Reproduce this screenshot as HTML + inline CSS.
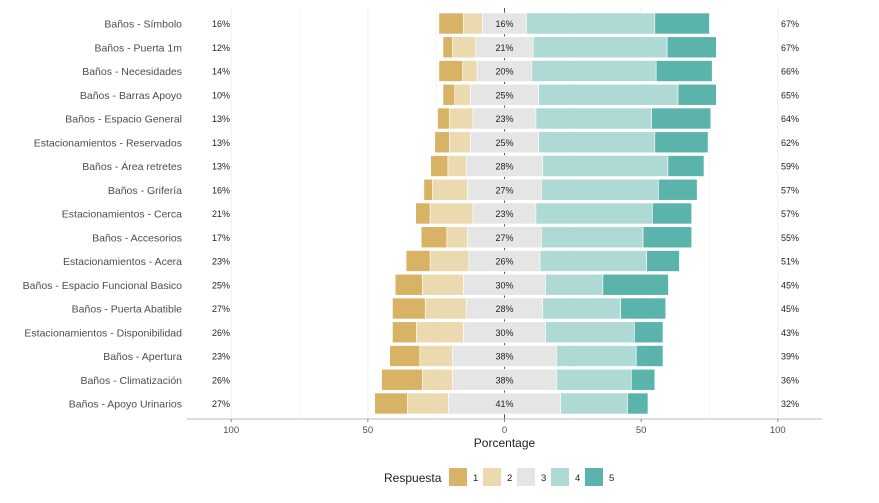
<!DOCTYPE html>
<html><head><meta charset="utf-8"><style>
body{margin:0;background:#fff;font-family:"Liberation Sans",Arial,sans-serif}
svg text{font-family:"Liberation Sans",Arial,sans-serif}
</style></head><body>
<svg id="chart" width="879" height="498" xmlns="http://www.w3.org/2000/svg"></svg>
<script>
const categories=["Baños - Símbolo","Baños - Puerta 1m","Baños - Necesidades","Baños - Barras Apoyo","Baños - Espacio General","Estacionamientos - Reservados","Baños - Área retretes","Baños - Grifería","Estacionamientos - Cerca","Baños - Accesorios","Estacionamientos - Acera","Baños - Espacio Funcional Basico","Baños - Puerta Abatible","Estacionamientos - Disponibilidad","Baños - Apertura","Baños - Climatización","Baños - Apoyo Urinarios"];
const r1=[9,3.5,8.7,4.3,4.3,5.4,6.3,3.2,5.3,9.4,8.8,10,12,8.8,11,15,12];
const r2=[7,8.5,5.3,5.7,8.7,7.6,6.7,12.8,15.7,7.6,14.2,15,15,17.2,12,11,15];
const r3=[16,21,20,25,23,25,28,27,23,27,26,30,28,30,38,38,41];
const r4=[47,49,45.5,51,42.3,42.5,45.8,42.8,42.6,37.2,39,21,28.5,32.5,29.2,27.4,24.5];
const r5=[20,18,20.5,14,21.7,19.5,13.2,14.2,14.4,17.8,12,24,16.5,10.5,9.8,8.6,7.5];
const leftLabels=["16%","12%","14%","10%","13%","13%","13%","16%","21%","17%","23%","25%","27%","26%","23%","26%","27%"];
const rightLabels=["67%","67%","66%","65%","64%","62%","59%","57%","57%","55%","51%","45%","45%","43%","39%","36%","32%"];
const xTicks=[-100,-50,0,50,100];
const legendKeys=["1","2","3","4","5"];
const colors=["#d9b365","#ebd9b0","#e5e5e5","#aed9d5","#5ab4ac"];
const NS="http://www.w3.org/2000/svg";
const svg=document.getElementById("chart");
const X=v=>504.5+v*2.733;
const Y=i=>23.5+i*23.75;
function el(tag,attrs,txt){const e=document.createElementNS(NS,tag);for(const k in attrs)e.setAttribute(k,attrs[k]);if(txt!=null)e.textContent=txt;svg.appendChild(e);return e;}
for(let v=-125;v<=125;v+=25){
 if(X(v)<187||X(v)>822)continue;
 const g=el("line",{x1:X(v),x2:X(v),y1:8,y2:419,stroke:"#f0f0f0","stroke-width":v%50===0?1:0.6});
 
 
}
const z=el("line",{x1:X(0),x2:X(0),y1:8,y2:419,stroke:"#555","stroke-width":1});


categories.forEach((c,i)=>{
 const y=Y(i),h=21;
 const segs=[r1[i],r2[i],r3[i],r4[i],r5[i]];
 let start=-(r1[i]+r2[i]+r3[i]/2);
 segs.forEach((v,k)=>{
  const r=el("rect",{x:X(start),y:y-h/2,width:v*2.733,height:h,fill:colors[k],stroke:"#fff","stroke-width":0.6});
  
  
  start+=v;
 });
 const lab=el("text",{x:182,y:y+4,"text-anchor":"end","font-size":10.5,fill:"#4d4d4d"},c);
 
 
 const lp=el("text",{x:221,y:y+3.5,"text-anchor":"middle","font-size":9,fill:"#222"},leftLabels[i]);
 
 
 const cp=el("text",{x:X(0),y:y+3.5,"text-anchor":"middle","font-size":9,fill:"#222"},r3[i]+"%");
 
 
 const rp=el("text",{x:790,y:y+3.5,"text-anchor":"middle","font-size":9,fill:"#222"},rightLabels[i]);
 
 
});
const ax=el("line",{x1:187,x2:822,y1:419,y2:419,stroke:"#bbb","stroke-width":1});


xTicks.forEach(t=>{
 const tk=el("line",{x1:X(t),x2:X(t),y1:419,y2:422,stroke:"#888"});
 
 
 const tl=el("text",{x:X(t),y:433,"text-anchor":"middle","font-size":9.5,fill:"#4d4d4d"},Math.abs(t));
 
 
});
const xt=el("text",{x:X(0),y:447,"text-anchor":"middle","font-size":12,fill:"#222"},"Porcentage");


const lt=el("text",{x:384,y:482,"font-size":12,fill:"#222"},"Respuesta");


legendKeys.forEach((k,i)=>{
 const x0=449+i*34;
 const b=el("rect",{x:x0,y:468,width:18,height:18,fill:colors[i]});
 
 
 const t=el("text",{x:x0+24,y:481,"font-size":9.5,fill:"#222"},k);
 
 
});
</script>
</body></html>
